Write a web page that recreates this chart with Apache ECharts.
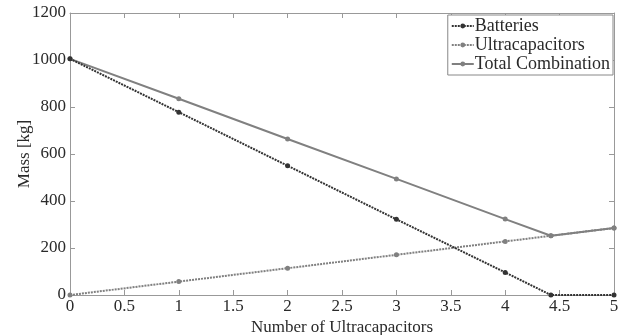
<!DOCTYPE html>
<html>
<head>
<meta charset="utf-8">
<script src="https://cdn.jsdelivr.net/npm/echarts@6/dist/echarts.min.js"></script>
<style>
  html, body { margin: 0; padding: 0; background: #fff; }
  #chart { width: 623px; height: 335px; }
</style>
</head>
<body>
<div id="chart"></div>
<script>
// x positions (number of ultracapacitors)
const xVals = [0, 1, 2, 3, 4, 4.42, 5];
const batteries = [1005, 778, 550, 322, 96, 0, 0];
const ultracaps = [0, 57, 114, 171, 228, 252, 285];
const total = [1005, 835, 664, 494, 323, 252, 285];
const seriesNames = ["Batteries", "Ultracapacitors", "Total Combination"];

const pairs = (ys) => xVals.map((x, i) => [x, ys[i]]);

const font = "Liberation Serif";
const axisGrey = "#999";
const textColor = "#2a2a2a";

const myChart = echarts.init(document.getElementById("chart"));

// 上下左右都有刻度（盒子样式）
const baseAxis = {
  type: "value",
  axisLine: { show: true, onZero: false, lineStyle: { color: axisGrey, width: 1 } },
  axisTick: { show: true, inside: true, length: 5, lineStyle: { color: axisGrey } },
  splitLine: { show: false },
};

myChart.setOption({
  animation: false,
  textStyle: { fontFamily: font },
  grid: { left: 70, right: 9, top: 13, bottom: 40, containLabel: false, outerBoundsMode: "none" },
  legend: {
    data: seriesNames,
    orient: "vertical",
    right: 10,
    top: 15,
    backgroundColor: "#fff",
    borderColor: "#888",
    borderWidth: 1,
    padding: [2, 3, 2, 3],
    itemGap: 1,
    itemWidth: 22,
    itemHeight: 6,
    textStyle: { fontFamily: font, fontSize: 18, color: textColor, padding: [0, 0, 0, -4] },
  },
  xAxis: [
    Object.assign({}, baseAxis, {
      min: 0, max: 5, interval: 0.5,
      name: "Number of Ultracapacitors",
      nameLocation: "middle",
      nameGap: 24,
      nameMoveOverlap: false,
      nameTextStyle: { fontFamily: font, fontSize: 17, color: textColor },
      axisLabel: { fontFamily: font, fontSize: 17, color: textColor, margin: 3 },
    }),
    Object.assign({}, baseAxis, {
      min: 0, max: 5, interval: 0.5,
      position: "top",
      axisLabel: { show: false },
    }),
  ],
  yAxis: [
    Object.assign({}, baseAxis, {
      min: 0, max: 1200, interval: 200,
      name: "Mass [kg]",
      nameLocation: "middle",
      nameGap: 37,
      nameMoveOverlap: false,
      nameTextStyle: { fontFamily: font, fontSize: 17, color: textColor },
      axisLabel: { fontFamily: font, fontSize: 17, color: textColor, margin: 4, formatter: (v) => String(v) },
    }),
    Object.assign({}, baseAxis, {
      min: 0, max: 1200, interval: 200,
      position: "right",
      axisLabel: { show: false },
    }),
  ],
  series: [
    {
      name: seriesNames[0],
      type: "line",
      data: pairs(batteries),
      symbol: "circle",
      symbolSize: 5,
      itemStyle: { color: "#333" },
      lineStyle: { color: "#333", width: 2, type: [2, 1] },
      z: 3,
    },
    {
      name: seriesNames[1],
      type: "line",
      data: pairs(ultracaps),
      symbol: "circle",
      symbolSize: 5,
      itemStyle: { color: "#808080" },
      lineStyle: { color: "#808080", width: 2, type: [2, 1] },
      z: 2,
    },
    {
      name: seriesNames[2],
      type: "line",
      data: pairs(total),
      symbol: "circle",
      symbolSize: 5,
      itemStyle: { color: "#808080" },
      lineStyle: { color: "#808080", width: 2 },
      z: 2,
    },
  ],
});
</script>
</body>
</html>
